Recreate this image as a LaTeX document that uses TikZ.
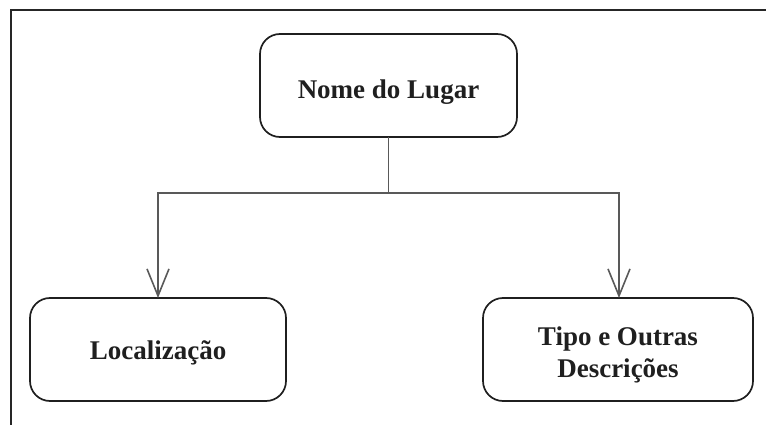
\documentclass[tikz,border=0pt]{standalone}
\usepackage{fontspec}
\setmainfont{Liberation Serif}
\usetikzlibrary{arrows.meta}
\begin{document}
\begin{tikzpicture}[x=1pt,y=-1pt,
  framebox/.style={draw=black!85, line width=2.2pt},
  entity/.style={draw=black!88, line width=1.7pt, rounded corners=20pt},
  label/.style={font=\fontsize{27}{32}\selectfont\bfseries, text=black!88, align=center},
  link/.style={draw=black!65, line width=1.6pt},
  tip/.style={-{Straight Barb[length=27pt,width=22pt,line width=1.6pt]}}
]
\useasboundingbox (0,0) rectangle (766,425);
% frame edges
\coordinate (fTL) at (11,10);
\coordinate (fTR) at (766,10);
\coordinate (fBL) at (11,425);
\draw[framebox] (fTR) -- (fTL) -- (fBL);

% boxes
\draw[entity] (260,34) rectangle (517,137);
\node[label] (top) at (388.5,92) {Nome do Lugar};
\coordinate (topS) at (388.5,137);

\draw[entity] (30,298) rectangle (286,401);
\node[label] (loc) at (158,353) {Localização};
\coordinate (locN) at (158,298);

\draw[entity] (483,298) rectangle (753,401);
\node[label] (tipo) at (618,355) {Tipo e Outras\\Descrições};
\coordinate (tipoN) at (619,298);

% connectors
\coordinate (split) at (388.5,193);
\draw[link,tip] (topS) -- (split) -| (locN);
\draw[link,tip] (split) -| (tipoN);
\end{tikzpicture}
\end{document}
